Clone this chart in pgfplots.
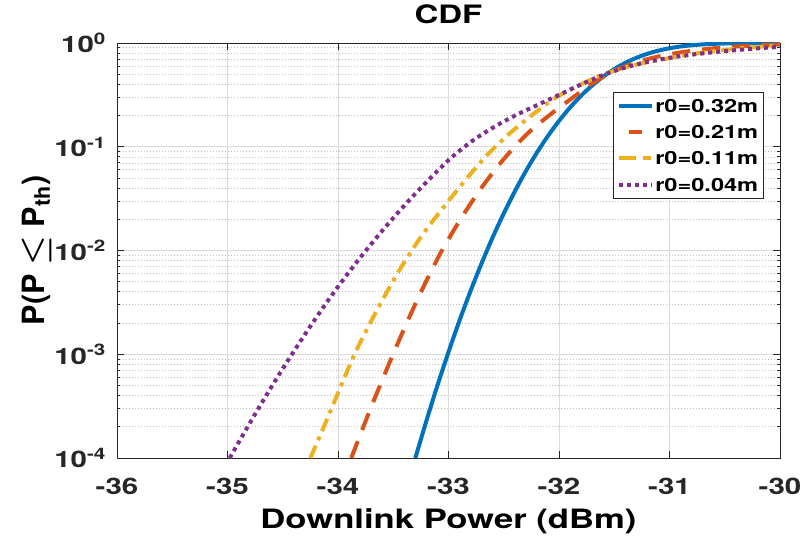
\documentclass[border=0pt]{standalone}
\usepackage{pgfplots}
\pgfplotsset{compat=1.18}
\usepackage{amsmath}
\usepackage{fontspec}
\setmainfont{TeX Gyre Heros}[FakeStretch=1.3]
\newfontfamily\plainfont{TeX Gyre Heros}
\definecolor{mblue}{rgb}{0,0.447,0.741}
\definecolor{morange}{rgb}{0.85,0.325,0.098}
\definecolor{myellow}{rgb}{0.929,0.694,0.125}
\definecolor{mpurple}{rgb}{0.494,0.184,0.556}
\definecolor{axgray}{rgb}{0.15,0.15,0.15}
\begin{document}
\begin{tikzpicture}
\path[use as bounding box] (0pt,0pt) rectangle (600pt,405pt);
\begin{axis}[
  at={(87.75pt,61.5pt)}, anchor=south west,
  scale only axis, width=497.25pt, height=311.25pt,
  ymode=log, xmin=-36, xmax=-30, ymin=1e-4, ymax=1,
  xtick={-36,-35,-34,-33,-32,-31,-30},
  xticklabels={-36,-35,-34,-33,-32,-31,-30},
  ytick={1e-4,1e-3,1e-2,1e-1,1},
  yticklabels={10\textsuperscript{-4},10\textsuperscript{-3},10\textsuperscript{-2},10\textsuperscript{-1},10\textsuperscript{0}},
  tick label style={font=\fontsize{17}{19}\selectfont\bfseries, text=axgray},
  xticklabel style={anchor=base, yshift=-27.5pt},
  yticklabel style={anchor=east, inner sep=0pt, xshift=-8pt},
  grid=both,
  major grid style={gray!28, line width=0.5pt},
  minor grid style={gray!50, line width=0.45pt, dash pattern=on 0.75pt off 1.5pt},
  tick align=inside, axis line style={axgray, line width=0.6pt},
  tick style={axgray, line width=0.5pt},
  xtick pos=both, ytick pos=both, major tick length=5pt, minor tick length=2.5pt,
  title={\fontsize{19}{21}\selectfont\bfseries CDF},
  title style={at={(0.5,1.0265)}, anchor=base, inner sep=0pt},
  xlabel={\fontsize{20}{22}\selectfont\bfseries Downlink Power (dBm)},
  xlabel style={at={(0.5,-0.169)}, anchor=base, inner sep=0pt},
  ylabel={\plainfont\fontsize{23}{25}\selectfont\bfseries P(P $\boldsymbol{\leq}$ P\textsubscript{th})},
  ylabel style={at={(-0.1087,0.5)}, anchor=base, rotate=0, inner sep=0pt},
  legend style={at={(0.748,0.882)}, anchor=north west, font=\fontsize{13.6}{15}\selectfont\bfseries, draw=axgray, line width=0.5pt, row sep=8.2pt, inner xsep=3pt, inner ysep=4.5pt, nodes={inner sep=0.8pt, text depth=0pt}},
  legend cell align=left,
]
\addplot[mblue, line width=3pt, smooth, tension=0.5, forget plot] coordinates {
(-33.30,1.0e-4) (-33.20,2.28e-4) (-33.10,5.01e-4) (-33.00,1.05e-3) (-32.90,2.12e-3) (-32.80,4.08e-3) (-32.70,7.55e-3) (-32.60,1.34e-2) (-32.50,2.275e-2) (-32.40,3.71e-2) (-32.30,5.82e-2) (-32.20,8.77e-2) (-32.10,0.1271) (-32.00,0.1775) (-31.90,0.2389) (-31.80,0.3103) (-31.70,0.3897) (-31.60,0.4741) (-31.50,0.560) (-31.40,0.6427) (-31.30,0.7193) (-31.20,0.787) (-31.10,0.844) (-31.00,0.8899) (-30.90,0.9252) (-30.80,0.9511) (-30.70,0.9693) (-30.60,0.9815) (-30.50,0.9893) (-30.30,0.9968) (-30.00,0.9996)};
\addplot[morange, line width=3pt, dash pattern=on 13.5pt off 9pt, smooth, tension=0.5, forget plot] coordinates {
(-33.88,1.0e-4) (-33.78,1.88e-4) (-33.68,3.50e-4) (-33.48,1.132e-3) (-33.28,3.39e-3) (-33.08,9.12e-3) (-32.88,2.09e-2) (-32.68,4.33e-2) (-32.48,8.05e-2) (-32.28,0.1355) (-32.08,0.2042) (-31.88,0.2951) (-31.68,0.4217) (-31.48,0.5495) (-31.28,0.6607) (-31.08,0.7499) (-30.88,0.8185) (-30.68,0.871) (-30.48,0.912) (-30.28,0.9397) (-30.00,0.966)};
\addplot[myellow, line width=3pt, dash pattern=on 10pt off 4.5pt on 3pt off 4.5pt, smooth, tension=0.5, forget plot] coordinates {
(-34.25,1.0e-4) (-34.15,1.76e-4) (-34.05,3.16e-4) (-33.85,1.0e-3) (-33.65,2.63e-3) (-33.45,6.31e-3) (-33.25,1.35e-2) (-33.05,2.57e-2) (-32.85,4.73e-2) (-32.65,8.32e-2) (-32.45,0.1334) (-32.25,0.1995) (-32.05,0.2884) (-31.85,0.3758) (-31.65,0.4732) (-31.45,0.5623) (-31.25,0.6383) (-31.05,0.6998) (-30.85,0.7638) (-30.65,0.8222) (-30.45,0.867) (-30.25,0.908) (-30.00,0.944)};
\addplot[mpurple, line width=3pt, dash pattern=on 3pt off 3pt, smooth, tension=0.5, forget plot] coordinates {
(-34.98,1.0e-4) (-34.78,2.34e-4) (-34.58,5.30e-4) (-34.38,1.148e-3) (-34.18,2.40e-3) (-33.98,4.79e-3) (-33.78,9.04e-3) (-33.58,1.64e-2) (-33.38,2.86e-2) (-33.18,4.79e-2) (-32.98,7.76e-2) (-32.78,0.1148) (-32.58,0.1567) (-32.38,0.2042) (-32.18,0.257) (-31.98,0.3236) (-31.78,0.4074) (-31.58,0.5012) (-31.38,0.5888) (-31.18,0.6637) (-30.98,0.7244) (-30.78,0.7762) (-30.58,0.8185) (-30.38,0.857) (-30.18,0.8913) (-30.00,0.918)};
\addlegendimage{legend image code/.code={\draw[mblue, line width=3pt] (0pt,0pt) -- (24.75pt,0pt);}}
\addlegendentry{r0=0.32m}
\addlegendimage{legend image code/.code={\draw[morange, line width=3pt] (7pt,0pt) -- (17pt,0pt);}}
\addlegendentry{r0=0.21m}
\addlegendimage{legend image code/.code={\draw[myellow, line width=3pt] (0pt,0pt) -- (12.5pt,0pt) (17.5pt,0pt) -- (24pt,0pt);}}
\addlegendentry{r0=0.11m}
\addlegendimage{legend image code/.code={\draw[mpurple, line width=3pt, dash pattern=on 3pt off 3pt] (0pt,0pt) -- (24.75pt,0pt);}}
\addlegendentry{r0=0.04m}
\end{axis}
\end{tikzpicture}
\end{document}
